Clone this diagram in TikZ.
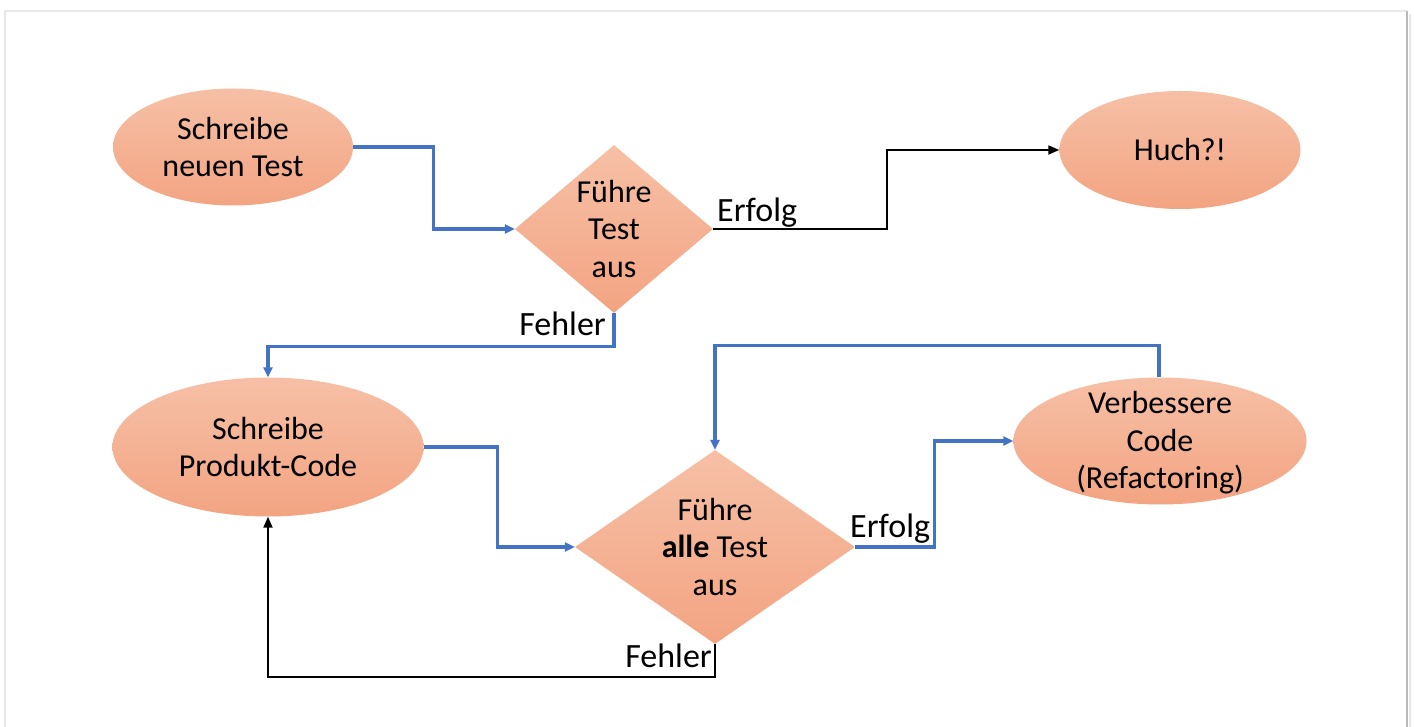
\documentclass[tikz,border=0pt]{standalone}
\usepackage{fontspec}
\setmainfont{Carlito}
\usetikzlibrary{shapes.geometric,arrows.meta}
\definecolor{salmonTop}{RGB}{246,192,166}
\definecolor{salmonBot}{RGB}{243,164,130}
\definecolor{flowblue}{RGB}{68,114,196}
\definecolor{frameLight}{RGB}{232,232,232}
\definecolor{frameDark}{RGB}{185,185,185}
\tikzset{
  shapefill/.style={top color=salmonTop, bottom color=salmonBot, draw=none, inner sep=0pt},
  ell/.style={shapefill, ellipse},
  dia/.style={shapefill, diamond},
  txt/.style={align=center, font=\fontsize{32}{37.5}\selectfont, inner sep=0pt},
  lbl/.style={font=\fontsize{34}{38}\selectfont, inner sep=0pt},
  bluecon/.style={draw=flowblue, line width=3.2pt, -{Triangle[length=10pt,width=9pt]}},
  blackcon/.style={draw=black, line width=2pt, -{Triangle[length=11pt,width=9pt]}},
}
\begin{document}
\begin{tikzpicture}[x=1pt,y=-1pt]
\useasboundingbox (0,0) rectangle (1414,727);
\fill[white] (0,0) rectangle (1414,727);
% frame
\draw[frameLight, line width=2.5pt] (5,740) -- (5,11) -- (1407,11);
\draw[frameDark, line width=2.5pt] (1407,11) -- (1407,740);
\draw[frameLight, line width=2pt] (1410,14) -- (1410,740);

% shapes
\node (e1) [ell, minimum width=240pt, minimum height=117pt] at (233,147) {};
\node (e1t) [txt] at (e1) {Schreibe\\neuen Test};

\node (huch) [ell, minimum width=241pt, minimum height=118pt] at (1180,150) {};
\node (huchT) [txt] at (huch) {Huch?!};

\node (d1) [dia, minimum width=198pt, minimum height=168pt] at (614,229) {};
\node (d1t) [txt] at (d1) {Führe\\Test\\aus};

\node (e2) [ell, minimum width=311pt, minimum height=139pt] at (268,447) {};
\node (e2t) [txt] at (e2) {Schreibe\\Produkt-Code};

\node (d2) [dia, minimum width=280pt, minimum height=194pt] at (715,547) {};
\node (d2t) [txt] at (d2) {Führe\\\textbf{alle} Test\\aus};

\node (e3) [ell, minimum width=293pt, minimum height=127pt] at (1160,441) {};
\node (e3t) [txt] at (1160,443) {Verbessere\\Code\\(Refactoring)};

% connectors
\draw[bluecon] (e1.east) -- ++(80,0) |- (d1.west);
\draw[blackcon] (d1.east) -- ++(174,0) |- (huch.west);
\draw[bluecon] (d1.south) -- ++(0,33) -| (e2.north);
\draw[bluecon] (e2.east) -- ++(74,0) |- (d2.west);
\draw[bluecon] (d2.east) -- ++(79,0) |- (e3.west);
\draw[bluecon] ([xshift=-1pt]e3.north) -- ++(0,-32) -| (d2.north);
\draw[blackcon] (d2.south) -- ++(0,33) -| (e2.south);

% labels
\node (l1) [lbl, anchor=base west] at (717,222) {Erfolg};
\node (l2) [lbl, anchor=base east] at (606,336) {Fehler};
\node (l3) [lbl, anchor=base west] at (850,537) {Erfolg};
\node (l4) [lbl, anchor=base east] at (712,667) {Fehler};
\end{tikzpicture}
\end{document}
